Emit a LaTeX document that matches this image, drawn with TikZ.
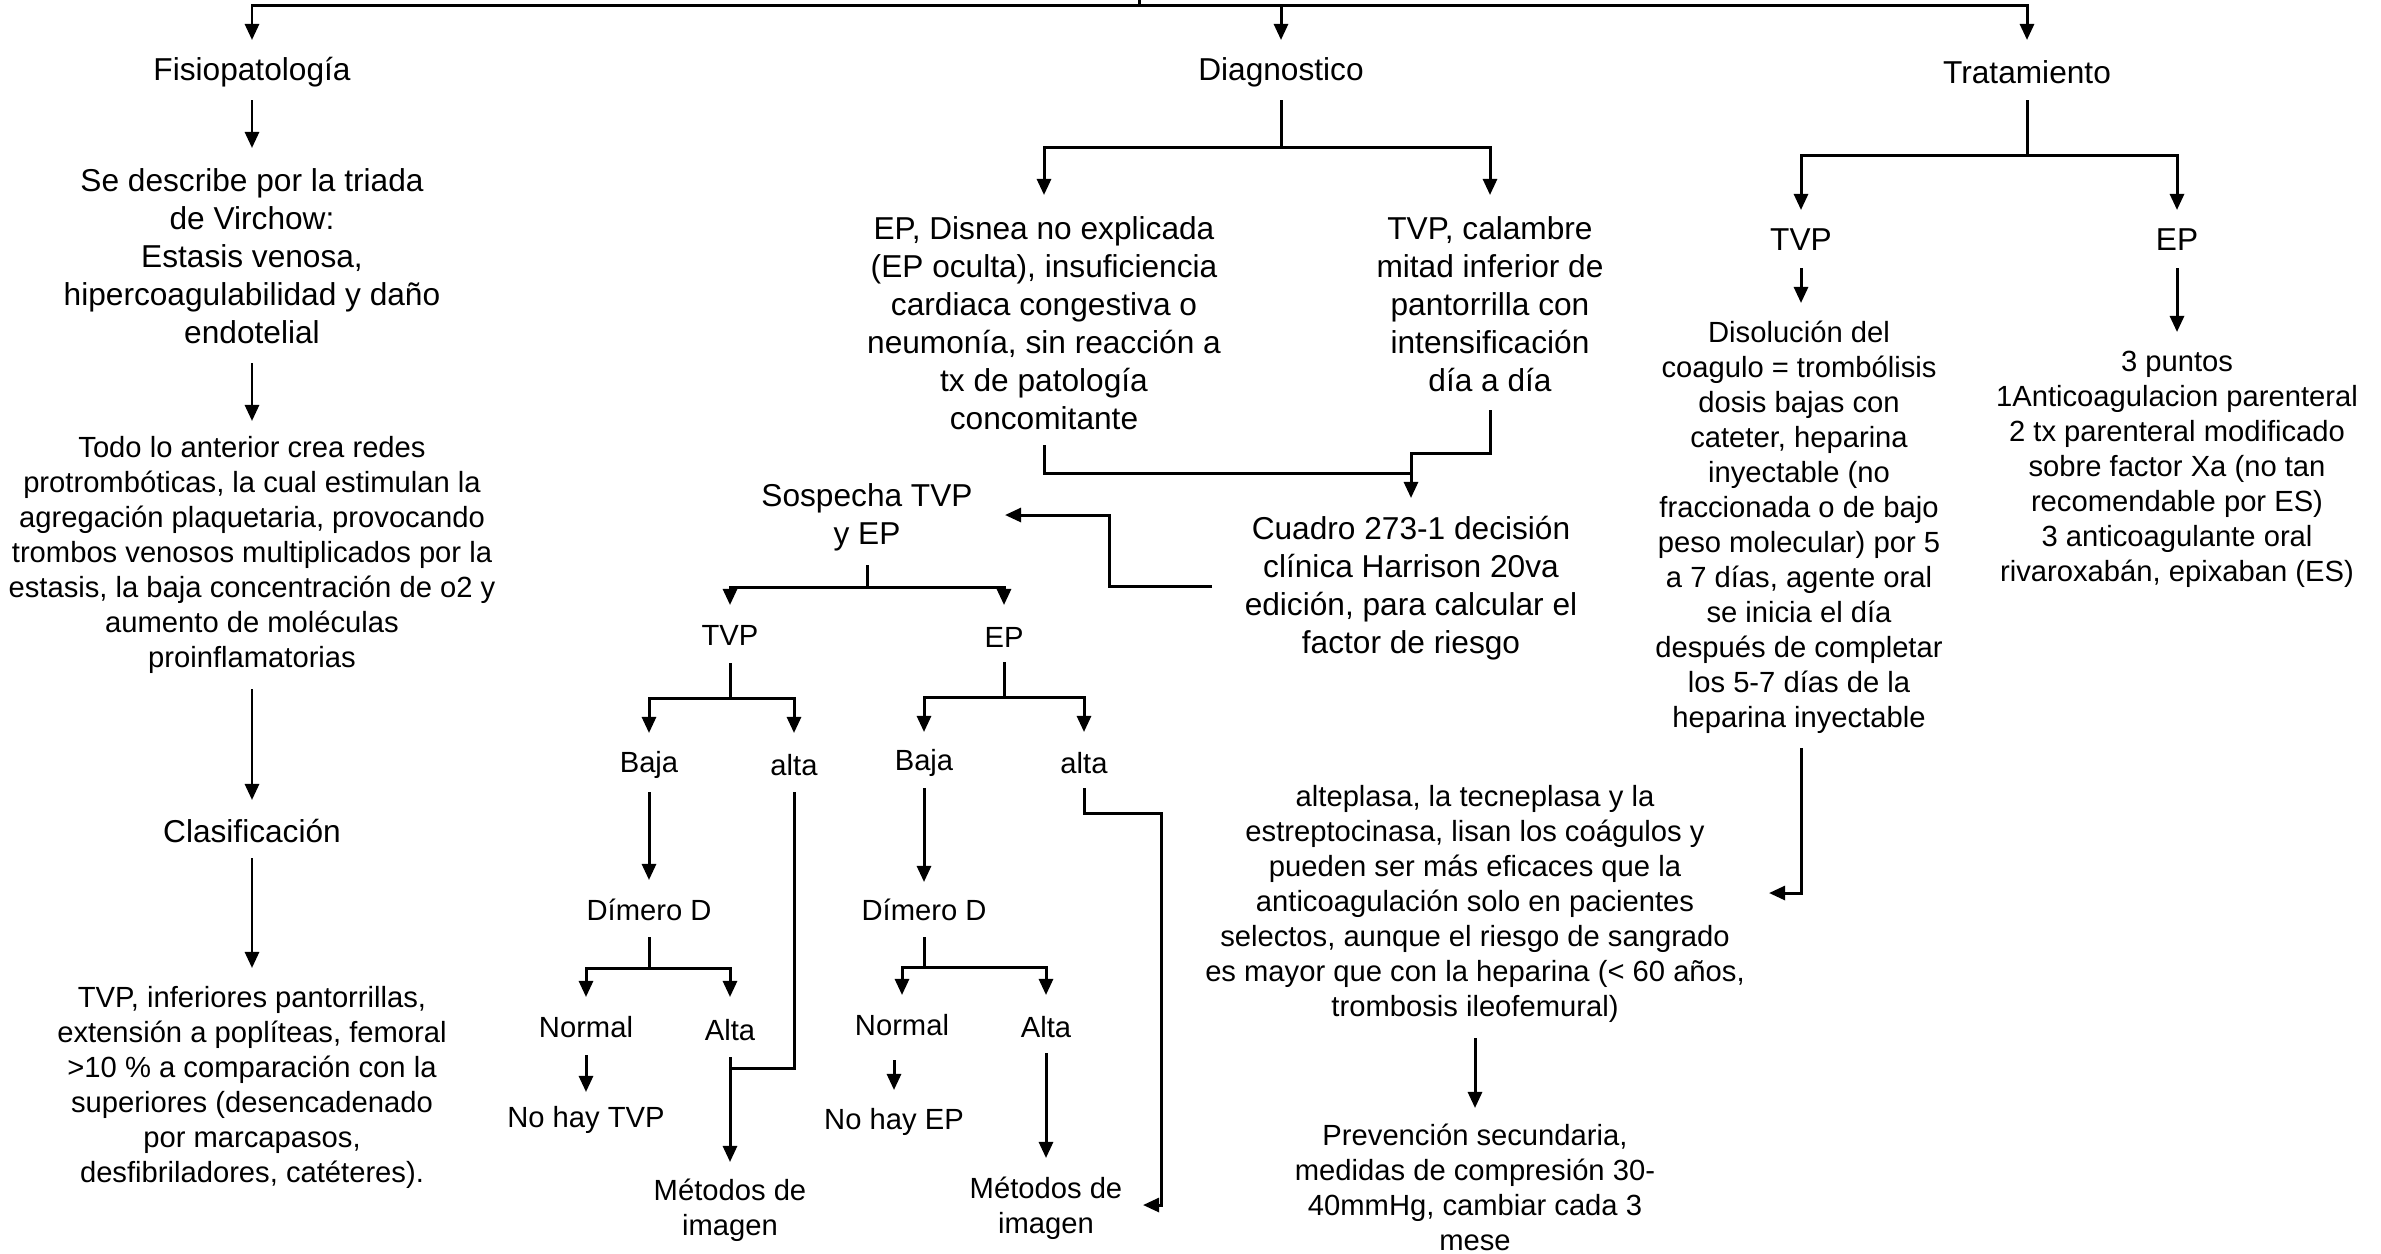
\documentclass[tikz,border=0pt]{standalone}
\usepackage{fontspec}
\setmainfont{Liberation Sans}
\usetikzlibrary{arrows.meta}
\begin{document}
\begin{tikzpicture}[x=0.01cm,y=-0.01cm,
  line width=0.85pt,
  arr/.style={-{Triangle[length=4.6pt,width=4pt]}},
  big/.style={align=center,inner sep=0pt,font=\fontsize{9}{10.8}\selectfont},
  sm/.style={align=center,inner sep=0pt,font=\fontsize{8.3}{9.96}\selectfont}]
\useasboundingbox (0,0) rectangle (2381,1253);
% ---------- nodes ----------
\node[big] (fis) at (252,72) {Fisiopatología};
\node[big] (diag) at (1281,72) {Diagnostico};
\node[big] (trat) at (2027,72) {Tratamiento};
\node[big] (virchow) at (252,256) {Se describe por la triada\\de Virchow:\\Estasis venosa,\\hipercoagulabilidad y daño\\endotelial};
\node[sm] (todo) at (252,555) {Todo lo anterior crea redes\\protrombóticas, la cual estimulan la\\agregación plaquetaria, provocando\\trombos venosos multiplicados por la\\estasis, la baja concentración de o2 y\\aumento de moléculas\\proinflamatorias};
\node[big] (clas) at (252,831) {Clasificación};
\node[sm] (clasd) at (252,1087) {TVP, inferiores pantorrillas,\\extensión a poplíteas, femoral\\>10 \% a comparación con la\\superiores (desencadenado\\por marcapasos,\\desfibriladores, catéteres).};
\node[big] (epd) at (1044,323) {EP, Disnea no explicada\\(EP oculta), insuficiencia\\cardiaca congestiva o\\neumonía, sin reacción a\\tx de patología\\concomitante};
\node[big] (tvpd) at (1490,304) {TVP, calambre\\mitad inferior de\\pantorrilla con\\intensificación\\día a día};
\node[big] (cuadro) at (1411,588) {Cuadro 273-1 decisión\\clínica Harrison 20va\\edición, para calcular el\\factor de riesgo};
\node[big] (sosp) at (867,517) {Sospecha TVP\\y EP};
\node[sm] (tvp1) at (730,635) {TVP};
\node[sm] (ep1) at (1004,637) {EP};
\node[sm] (baja1) at (649,765) {Baja};
\node[sm] (alta1) at (794,765) {alta};
\node[sm] (dim1) at (649,910) {Dímero D};
\node[sm] (norm1) at (586,1027) {Normal};
\node[sm] (altaD1) at (730,1030) {Alta};
\node[sm] (notvp) at (586,1120) {No hay TVP};
\node[sm] (met1) at (730,1210) {Métodos de\\imagen};
\node[sm] (baja2) at (924,763) {Baja};
\node[sm] (alta2) at (1084,763) {alta};
\node[sm] (dim2) at (924,910) {Dímero D};
\node[sm] (norm2) at (902,1025) {Normal};
\node[sm] (altaD2) at (1046,1027) {Alta};
\node[sm] (noep) at (894,1122) {No hay EP};
\node[sm] (met2) at (1046,1208) {Métodos de\\imagen};
\node[big] (ttvp) at (1801,240) {TVP};
\node[big] (tep) at (2177,240) {EP};
\node[sm] (disol) at (1799,527) {Disolución del\\coagulo = trombólisis\\dosis bajas con\\cateter, heparina\\inyectable (no\\fraccionada o de bajo\\peso molecular) por 5\\a 7 días, agente oral\\se inicia el día\\después de completar\\los 5-7 días de la\\heparina inyectable};
\node[sm] (puntos) at (2177,469) {3 puntos\\1Anticoagulacion parenteral\\2 tx parenteral modificado\\sobre factor Xa (no tan\\recomendable por ES)\\3 anticoagulante oral\\rivaroxabán, epixaban (ES)};
\node[sm] (altep) at (1475,904) {alteplasa, la tecneplasa y la\\estreptocinasa, lisan los coágulos y\\pueden ser más eficaces que la\\anticoagulación solo en pacientes\\selectos, aunque el riesgo de sangrado\\es mayor que con la heparina (< 60 años,\\trombosis ileofemural)};
\node[sm] (prev) at (1475,1187) {Prevención secundaria,\\medidas de compresión 30-\\40mmHg, cambiar cada 3\\mese};
% ---------- junction coordinates ----------
\coordinate (top) at (1139,0);
\coordinate (j0) at (1139,5);
\coordinate (cq) at (1212,586);
\coordinate (cqb) at (1109,515);
\coordinate (sospr) at (1005,515);
\coordinate (a2r) at (1161,813);
\coordinate (m2r) at (1143,1205);
\coordinate (altr) at (1769,893);
% ---------- connectors ----------
\draw (top) -- (j0);
\draw[arr] (j0) -| (fis |- 0,40);
\draw[arr] (j0) -| (trat |- 0,40);
\draw[arr] (diag |- 0,5) -- (diag |- 0,40);
\draw[arr] (fis |- 0,100) -- (virchow |- 0,148);
\draw[arr] (virchow |- 0,363) -- (todo |- 0,421);
\draw[arr] (todo |- 0,689) -- (clas |- 0,800);
\draw[arr] (clas |- 0,858) -- (clasd |- 0,968);
% diagnostico
\draw (diag |- 0,100) -- (diag |- 0,147);
\draw[arr] (diag |- 0,147) -| (epd |- 0,195);
\draw[arr] (diag |- 0,147) -| (tvpd |- 0,195);
\draw (epd |- 0,445) |- (cuadro |- 0,473);
\draw (tvpd |- 0,410) |- (cuadro |- 0,453) -- (cuadro |- 0,473);
\draw[arr] (cuadro |- 0,473) -- (cuadro |- 0,498);
\draw[arr] (cq) -| (cqb) -- (sospr);
% sospecha
\draw (sosp |- 0,565) -- (sosp |- 0,587);
\draw[arr] (sosp |- 0,587) -| (tvp1 |- 0,605);
\draw[arr] (sosp |- 0,587) -| (ep1 |- 0,605);
% TVP branch
\draw (tvp1 |- 0,663) -- (tvp1 |- 0,698);
\draw[arr] (tvp1 |- 0,698) -| (baja1 |- 0,733);
\draw[arr] (tvp1 |- 0,698) -| (alta1 |- 0,733);
\draw[arr] (baja1 |- 0,792) -- (dim1 |- 0,880);
\draw (dim1 |- 0,937) -- (dim1 |- 0,968);
\draw[arr] (dim1 |- 0,968) -| (norm1 |- 0,997);
\draw[arr] (dim1 |- 0,968) -| (altaD1 |- 0,997);
\draw[arr] (norm1 |- 0,1055) -- (notvp |- 0,1092);
\draw[arr] (altaD1 |- 0,1057) -- (met1 |- 0,1162);
\draw (alta1 |- 0,792) |- (altaD1 |- 0,1068);
% EP branch
\draw (ep1 |- 0,662) -- (ep1 |- 0,697);
\draw[arr] (ep1 |- 0,697) -| (baja2 |- 0,732);
\draw[arr] (ep1 |- 0,697) -| (alta2 |- 0,732);
\draw[arr] (baja2 |- 0,788) -- (dim2 |- 0,882);
\draw (dim2 |- 0,937) -- (dim2 |- 0,967);
\draw[arr] (dim2 |- 0,967) -| (norm2 |- 0,995);
\draw[arr] (dim2 |- 0,967) -| (altaD2 |- 0,995);
\draw[arr] (noep |- 0,1060) -- (noep |- 0,1090);
\draw[arr] (altaD2 |- 0,1053) -- (met2 |- 0,1158);
\draw[arr] (alta2 |- 0,788) |- (a2r) |- (m2r);
% tratamiento
\draw (trat |- 0,100) -- (trat |- 0,155);
\draw[arr] (trat |- 0,155) -| (ttvp |- 0,210);
\draw[arr] (trat |- 0,155) -| (tep |- 0,210);
\draw[arr] (ttvp |- 0,268) -- (ttvp |- 0,303);
\draw[arr] (tep |- 0,268) -- (tep |- 0,332);
\draw[arr] (ttvp |- 0,748) |- (altr);
\draw[arr] (altep |- 0,1038) -- (prev |- 0,1108);
\end{tikzpicture}
\end{document}
